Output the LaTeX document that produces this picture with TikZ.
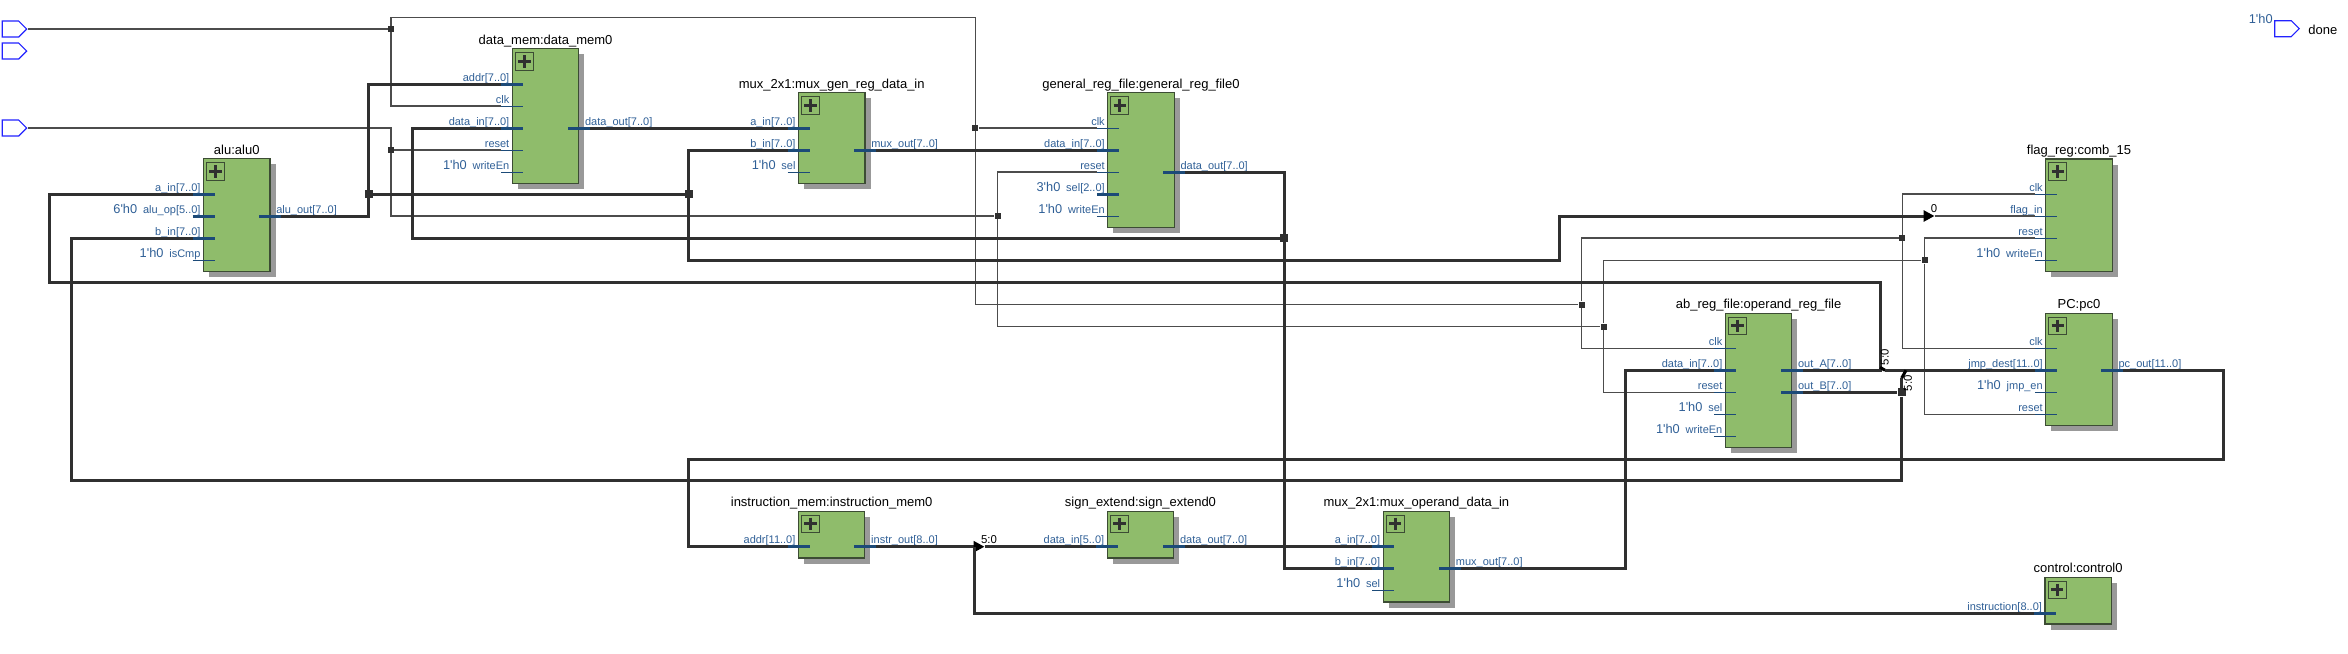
\documentclass[tikz,border=0pt]{standalone}
\usepackage{fontspec}
\setmainfont{Liberation Sans}
\usepackage{tikz}
\usetikzlibrary{
  positioning,
  calc,
  arrows.meta,
  shadows,
  shapes.symbols
}
\definecolor{boxgreen}{HTML}{8FBC6B}
\definecolor{boxedge}{HTML}{3C4C34}
\definecolor{shadowgray}{HTML}{999999}
\definecolor{wiregray}{HTML}{303030}
\definecolor{stubblue}{HTML}{1C4A78}
\definecolor{labelblue}{HTML}{2F5F96}
\definecolor{pinblue}{HTML}{2222FF}

\tikzstyle{blockbox}=[draw=boxedge, fill=boxgreen, line width=0.6pt, anchor=north west, outer sep=0pt, inner sep=0pt, minimum width=33.15pt, drop shadow={shadow xshift=2.8pt, shadow yshift=-2.75pt, fill=shadowgray, opacity=1}]
\tikzstyle{plusbox}=[draw=boxedge, line width=0.5pt, inner sep=0pt, minimum width=9pt, minimum height=8.8pt]
\tikzstyle{plusbar}=[line width=1.5pt, wiregray]
\tikzstyle{titletext}=[anchor=base, inner sep=0pt, font=\fontsize{6.5pt}{7pt}\selectfont]
\tikzstyle{portlab}=[inner sep=0pt, text=labelblue, font=\fontsize{5.5pt}{6pt}\selectfont]
\tikzstyle{constlab}=[inner sep=0pt, text=labelblue, font=\fontsize{6.4pt}{7pt}\selectfont]
\tikzstyle{tinylab}=[inner sep=0pt, font=\fontsize{5.7pt}{6pt}\selectfont]
\tikzstyle{busstub}=[stubblue, line width=1.5pt]
\tikzstyle{sigstub}=[stubblue, line width=0.5pt]
\tikzstyle{buswire}=[wiregray, line width=1.5pt]
\tikzstyle{sigwire}=[black!70, line width=0.55pt]
\tikzstyle{sigjoint}=[fill=wiregray, inner sep=0pt, minimum size=3pt]
\tikzstyle{busjoint}=[fill=wiregray, inner sep=0pt, minimum size=3.9pt]
\tikzstyle{pinshape}=[draw=pinblue, line width=0.55pt, signal, signal to=east, anchor=east, inner sep=0pt, minimum width=12.25pt, minimum height=8pt]
\tikzstyle{tiparrow}=[-{Triangle[length=5.5pt, width=5.5pt, black]}]

% ブロック: 名前, x, y, 高さ, 題名
\newcommand{\modbox}[5]{%
  \node[blockbox, minimum height=#4*0.5pt] (#1) at (#2,#3) {};
  \node[titletext] (#1 title) at ($(#1.north)+(0,-4.7)$) {#5};
  \node[plusbox] (#1 plus) at ($(#1.north west)+(12,12.6)$) {};
  \draw[plusbar] ($(#1 plus)+(-6.2,0)$) -- ($(#1 plus)+(6.2,0)$);
  \draw[plusbar] ($(#1 plus)+(0,-6.2)$) -- ($(#1 plus)+(0,6.2)$);
}
% 入力ポート: ブロック, 名前, y, ラベル, 線種
\newcommand{\inport}[5]{%
  \coordinate (#2) at ($(#1.west |- 0,#3)+(-11,0)$);
  \draw[#5] (#2) -- ++(22,0);
  \node[portlab, anchor=base east] (#2 lab) at ($(#1.west |- 0,#3)+(-2.7,-3)$) {#4};
}
% 出力ポート
\newcommand{\outport}[5]{%
  \coordinate (#2) at ($(#1.east |- 0,#3)+(11,0)$);
  \draw[#5] (#2) -- ++(-22,0);
  \node[portlab, anchor=base west] (#2 lab) at ($(#1.east |- 0,#3)+(6,-3)$) {#4};
}
% 定数ラベル
\newcommand{\constval}[2]{%
  \node[constlab, base left=2.5pt of #1 lab] (#1 val) {#2\textquotesingle h0};
}

\begin{document}
\begin{tikzpicture}[x=0.5pt, y=-0.5pt]
    \useasboundingbox (0,0) rectangle (2348,653);

    % 入出力ピン
    \node[pinshape] (pinClk) at (27.5,29) {};
    \node[pinshape] (pinIdle) at (27.5,51) {};
    \node[pinshape] (pinRst) at (27.5,128) {};
    \node[pinshape] (pinDone) at (2300,28.7) {};
    \node[titletext, anchor=base west] (doneLab) at (2308,34) {done};
    \node[constlab, anchor=base east] (doneVal) at (2273,24) {1\textquotesingle h0};

    % ブロック
    \modbox{alu}{203.6}{158.7}{112.6}{alu:alu0}
    \modbox{dm}{512.4}{48.7}{134.6}{data\_mem:data\_mem0}
    \modbox{mg}{798.6}{92.7}{90.6}{mux\_2x1:mux\_gen\_reg\_data\_in}
    \modbox{gr}{1107.8}{92.7}{134.6}{general\_reg\_file:general\_reg\_file0}
    \modbox{op}{1725.4}{313.3}{134.4}{ab\_reg\_file:operand\_reg\_file}
    \modbox{fl}{2045.8}{159}{112.3}{flag\_reg:comb\_15}
    \modbox{pc}{2045.8}{313.3}{112.4}{PC:pc0}
    \modbox{im}{798.5}{511.3}{46.7}{instruction\_mem:instruction\_mem0}
    \modbox{sx}{1107.3}{511.3}{46.7}{sign\_extend:sign\_extend0}
    \modbox{mo}{1383.2}{511.3}{90.7}{mux\_2x1:mux\_operand\_data\_in}
    \modbox{ct}{2045}{577.3}{46.7}{control:control0}

    % alu のポート
    \inport{alu}{aluA}{194}{a\_in[7..0]}{busstub}
    \inport{alu}{aluOp}{216}{alu\_op[5..0]}{busstub}
    \inport{alu}{aluB}{238}{b\_in[7..0]}{busstub}
    \inport{alu}{aluCmp}{260}{isCmp}{sigstub}
    \outport{alu}{aluOut}{216}{alu\_out[7..0]}{busstub}
    \constval{aluOp}{6}
    \constval{aluCmp}{1}

    % data_mem のポート
    \inport{dm}{dmAddr}{84}{addr[7..0]}{busstub}
    \inport{dm}{dmClk}{106}{clk}{sigstub}
    \inport{dm}{dmIn}{128}{data\_in[7..0]}{busstub}
    \inport{dm}{dmRst}{150}{reset}{sigstub}
    \inport{dm}{dmWe}{172}{writeEn}{sigstub}
    \outport{dm}{dmOut}{128}{data\_out[7..0]}{busstub}
    \constval{dmWe}{1}

    % mux_gen のポート
    \inport{mg}{mgA}{128}{a\_in[7..0]}{busstub}
    \inport{mg}{mgB}{150}{b\_in[7..0]}{busstub}
    \inport{mg}{mgSel}{172}{sel}{sigstub}
    \outport{mg}{mgOut}{150}{mux\_out[7..0]}{busstub}
    \constval{mgSel}{1}

    % general_reg_file のポート
    \inport{gr}{grClk}{128}{clk}{sigstub}
    \inport{gr}{grIn}{150}{data\_in[7..0]}{busstub}
    \inport{gr}{grRst}{172}{reset}{sigstub}
    \inport{gr}{grSel}{194}{sel[2..0]}{busstub}
    \inport{gr}{grWe}{216}{writeEn}{sigstub}
    \outport{gr}{grOut}{172}{data\_out[7..0]}{busstub}
    \constval{grSel}{3}
    \constval{grWe}{1}

    % operand_reg_file のポート
    \inport{op}{opClk}{348.3}{clk}{sigstub}
    \inport{op}{opIn}{370.3}{data\_in[7..0]}{busstub}
    \inport{op}{opRst}{392.3}{reset}{sigstub}
    \inport{op}{opSel}{414.3}{sel}{sigstub}
    \inport{op}{opWe}{436.3}{writeEn}{sigstub}
    \outport{op}{opOutA}{370.3}{out\_A[7..0]}{busstub}
    \outport{op}{opOutB}{392.3}{out\_B[7..0]}{busstub}
    \constval{opSel}{1}
    \constval{opWe}{1}

    % flag_reg のポート
    \inport{fl}{flClk}{194}{clk}{sigstub}
    \inport{fl}{flIn}{216}{flag\_in}{sigstub}
    \inport{fl}{flRst}{238}{reset}{sigstub}
    \inport{fl}{flWe}{260}{writeEn}{sigstub}
    \constval{flWe}{1}

    % PC のポート
    \inport{pc}{pcClk}{348.3}{clk}{sigstub}
    \inport{pc}{pcJmp}{370.3}{jmp\_dest[11..0]}{busstub}
    \inport{pc}{pcEn}{392.3}{jmp\_en}{sigstub}
    \inport{pc}{pcRst}{414.3}{reset}{sigstub}
    \outport{pc}{pcOut}{370.3}{pc\_out[11..0]}{busstub}
    \constval{pcEn}{1}

    % 下段のポート
    \inport{im}{imAddr}{546.7}{addr[11..0]}{busstub}
    \outport{im}{imOut}{546.7}{instr\_out[8..0]}{busstub}
    \inport{sx}{sxIn}{546.7}{data\_in[5..0]}{busstub}
    \outport{sx}{sxOut}{546.7}{data\_out[7..0]}{busstub}
    \inport{mo}{moA}{546.7}{a\_in[7..0]}{busstub}
    \inport{mo}{moB}{568.7}{b\_in[7..0]}{busstub}
    \inport{mo}{moSel}{590.7}{sel}{sigstub}
    \outport{mo}{moOut}{568.7}{mux\_out[7..0]}{busstub}
    \constval{moSel}{1}
    \inport{ct}{ctInstr}{613}{instruction[8..0]}{busstub}

    % 分岐点
    \node[sigjoint] (jClkA) at (391,29) {};
    \node[sigjoint] (jClkB) at (975.4,128) {};
    \node[sigjoint] (jClkC) at (1581.5,304.7) {};
    \node[sigjoint] (jClkD) at (1902.3,238) {};
    \node[sigjoint] (jRstA) at (391,150) {};
    \node[sigjoint] (jRstB) at (997.6,216) {};
    \node[sigjoint] (jRstC) at (1603.7,326.5) {};
    \node[sigjoint] (jRstD) at (1924.5,260.3) {};
    \node[busjoint] (jAluA) at (368.9,194) {};
    \node[busjoint] (jAluB) at (688.8,194) {};
    \node[busjoint] (jGrA) at (1284.2,238) {};
    \node[busjoint] (jOutB) at (1901.7,392.3) {};
    \coordinate (flagTip) at (1934.5,216);
    \coordinate (instrTip) at (984.5,546.7);
    \coordinate (instrTail) at (974.5,546.7);

    % clk の配線
    \draw[sigwire] (pinClk.east) -- (jClkA);
    \draw[sigwire] (jClkA) |- (dmClk);
    \draw[sigwire] (jClkA) -- (391,17.7) -| (jClkB);
    \draw[sigwire] (jClkB) -- (grClk);
    \draw[sigwire] (jClkB) |- (jClkC);
    \draw[sigwire] (jClkC) |- (jClkD);
    \draw[sigwire] (jClkC) |- (opClk);
    \draw[sigwire] (jClkD) |- (flClk);
    \draw[sigwire] (jClkD) |- (pcClk);

    % reset の配線
    \draw[sigwire] (pinRst.east) -| (jRstA);
    \draw[sigwire] (jRstA) -- (dmRst);
    \draw[sigwire] (jRstA) |- (jRstB);
    \draw[sigwire] (jRstB) |- (grRst);
    \draw[sigwire] (jRstB) |- (jRstC);
    \draw[sigwire] (jRstC) |- (jRstD);
    \draw[sigwire] (jRstC) |- (opRst);
    \draw[sigwire] (jRstD) |- (flRst);
    \draw[sigwire] (jRstD) |- (pcRst);

    % alu 出力のバス
    \draw[buswire] (aluOut) -| (jAluA);
    \draw[buswire] (jAluA) |- (dmAddr);
    \draw[buswire] (jAluA) -- (jAluB);
    \draw[buswire] (jAluB) |- (mgB);
    \draw[buswire, tiparrow] (jAluB) |- (1559.7,260) |- (flagTip);
    \draw[sigwire] (flagTip) -- (flIn);

    % レジスタとメモリのバス
    \draw[buswire] (dmOut) -- (mgA);
    \draw[buswire] (mgOut) -- (grIn);
    \draw[buswire] (grOut) -| (jGrA);
    \draw[buswire] (jGrA) |- (moB);
    \draw[buswire] (jGrA) -| (412.9,128) -- (dmIn);
    \draw[buswire] (moOut) -| (1625.8,370.3) -- (opIn);

    % オペランド出力のバス
    \draw[buswire] (opOutA) -| (1880,282) -| (49,194) -- (aluA);
    \draw[buswire, black] (1880,367.3) -- (1885,370.3);
    \draw[buswire] (1885,370.3) -- (pcJmp);
    \draw[buswire] (opOutB) -- (jOutB);
    \draw[buswire] (jOutB) -- (1901.7,378);
    \draw[buswire, black] (1901.7,378) -- (1906,370.3);
    \draw[buswire] (jOutB) |- (71,480.7) |- (aluB);
    \node[tinylab, rotate=90] (tapA) at (1884.7,357.3) {5:0};
    \node[tinylab, rotate=90] (tapB) at (1908,383.3) {5:0};

    % 命令のバス
    \draw[buswire] (pcOut) -| (2223.3,459) -| (688.7,546.7) -- (imAddr);
    \draw[buswire, tiparrow] (imOut) -- (instrTip);
    \draw[buswire] (instrTip) -- (sxIn);
    \draw[buswire] (instrTail) |- (ctInstr);
    \draw[buswire] (sxOut) -- (moA);
    \node[tinylab] (tapC) at (989,540) {5:0};
    \node[tinylab] (tapD) at (1934,209) {0};
\end{tikzpicture}
\end{document}
